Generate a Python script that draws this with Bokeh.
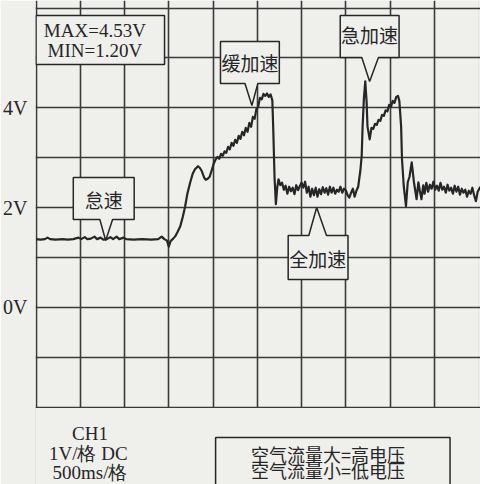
from bokeh.plotting import figure
from bokeh.models import Grid, FixedTicker, Range1d
from bokeh.core.properties import value
from bokeh.embed import file_html
from bokeh.resources import INLINE

# ---------------- data (time in s, voltage in V) ----------------
t_idle = [0.00, 0.05, 0.10, 0.13, 0.16, 0.22, 0.30, 0.36, 0.42, 0.48, 0.51, 0.55, 0.58, 0.62,
          0.66, 0.69, 0.73, 0.76, 0.80, 0.84, 0.87, 0.91, 0.94, 0.99, 1.02, 1.10, 1.20, 1.30,
          1.38, 1.42, 1.45, 1.48]
v_idle = [1.37, 1.36, 1.37, 1.40, 1.37, 1.36, 1.37, 1.36, 1.37, 1.40, 1.37, 1.41, 1.37, 1.38,
          1.42, 1.37, 1.40, 1.36, 1.37, 1.41, 1.37, 1.42, 1.37, 1.40, 1.37, 1.36, 1.37, 1.36,
          1.37, 1.42, 1.37, 1.34]

t_slow = [1.50, 1.52, 1.55, 1.574, 1.60, 1.63, 1.66, 1.685, 1.71, 1.741, 1.77, 1.796, 1.83,
          1.85, 1.874, 1.90, 1.918, 1.94, 1.962, 1.985, 2.007, 2.03, 2.05, 2.07, 2.09, 2.11,
          2.13, 2.15, 2.17, 2.19, 2.21, 2.23, 2.25, 2.27, 2.29, 2.31, 2.33, 2.35, 2.37, 2.39,
          2.41, 2.43, 2.45, 2.47, 2.49, 2.51, 2.53, 2.55, 2.57, 2.59, 2.61, 2.63, 2.65, 2.67,
          2.68, 2.695, 2.71, 2.725, 2.74, 2.76]
v_slow = [1.22, 1.33, 1.38, 1.43, 1.52, 1.63, 1.83, 2.03, 2.28, 2.50, 2.68, 2.77, 2.83,
          2.80, 2.73, 2.60, 2.56, 2.58, 2.62, 2.75, 2.88, 2.97, 3.02, 2.98, 3.08, 3.04,
          3.13, 3.10, 3.22, 3.17, 3.30, 3.24, 3.36, 3.30, 3.44, 3.38, 3.52, 3.45, 3.60, 3.52,
          3.70, 3.62, 3.82, 3.78, 3.98, 4.02, 4.20, 4.17, 4.28, 4.24, 4.29, 4.22, 4.27, 4.15,
          3.60, 2.60, 2.07, 2.40, 2.57, 2.45]

t_full = [2.78, 2.80, 2.82, 2.84, 2.86, 2.88, 2.90, 2.92, 2.94, 2.96, 2.98, 3.00, 3.02, 3.04,
          3.06, 3.08, 3.10, 3.12, 3.14, 3.16, 3.18, 3.20, 3.22, 3.24, 3.26, 3.28, 3.30, 3.32,
          3.34, 3.36, 3.38, 3.40, 3.42, 3.44, 3.46, 3.48, 3.50, 3.52, 3.54, 3.56, 3.58, 3.60,
          3.62, 3.64]
v_full = [2.50, 2.36, 2.44, 2.28, 2.42, 2.33, 2.40, 2.27, 2.45, 2.35, 2.43, 2.50, 2.40, 2.52,
          2.30, 2.42, 2.22, 2.38, 2.25, 2.40, 2.22, 2.37, 2.27, 2.41, 2.30, 2.39, 2.26, 2.42,
          2.30, 2.40, 2.28, 2.36, 2.32, 2.42, 2.30, 2.38, 2.35, 2.25, 2.20, 2.30, 2.38, 2.22,
          2.34, 2.42]

t_fast = [3.665, 3.68, 3.69, 3.705, 3.72, 3.735, 3.745, 3.77, 3.79, 3.81, 3.83, 3.85, 3.87,
          3.89, 3.91, 3.93, 3.95, 3.97, 3.99, 4.01, 4.03, 4.05, 4.07, 4.09, 4.105, 4.125,
          4.135, 4.155, 4.18, 4.20, 4.22, 4.245, 4.27, 4.30, 4.32, 4.335, 4.355, 4.375, 4.39,
          4.41, 4.43, 4.45, 4.47, 4.49, 4.51, 4.53, 4.55, 4.57, 4.59, 4.61, 4.63, 4.65, 4.67,
          4.69, 4.71, 4.73, 4.75, 4.77, 4.79, 4.81, 4.83, 4.85, 4.87, 4.89, 4.91, 4.93, 4.95,
          4.97, 4.99, 5.02]
v_fast = [2.75, 3.05, 3.63, 4.20, 4.53, 4.12, 3.63, 3.37, 3.60, 3.58, 3.68, 3.66, 3.76,
          3.74, 3.86, 3.84, 3.95, 3.93, 4.06, 4.02, 4.14, 4.10, 4.22, 4.24, 4.14, 3.63,
          2.97, 2.43, 2.03, 2.51, 2.62, 2.91, 2.51, 2.17, 2.51, 2.35, 2.17, 2.45, 2.28,
          2.50, 2.32, 2.46, 2.38, 2.52, 2.36, 2.44, 2.34, 2.50, 2.36, 2.42, 2.30, 2.46, 2.34,
          2.40, 2.28, 2.44, 2.32, 2.42, 2.26, 2.38, 2.30, 2.36, 2.22, 2.34, 2.28, 2.40, 2.25,
          2.13, 2.32, 2.42]

t = t_idle + t_slow + t_full + t_fast
v = v_idle + v_slow + v_full + v_fast

y_ticks = [0, 2, 4]
y_tick_labels = {0: "0V", 2: "2V", 4: "4V"}
v_grid = [-2, -1, 0, 1, 2, 3, 4, 5, 6]
t_grid = [0, 0.5, 1.0, 1.5, 2.0, 2.5, 3.0, 3.5, 4.0, 4.5]

stats_text = ["MAX=4.53V", "MIN=1.20V"]
scope_text = ["CH1", "1V/格 DC", "500ms/格"]
legend_text = ["空气流量大=高电压", "空气流量小=低电压"]
callout_text = ["怠速", "缓加速", "急加速", "全加速"]

# ---------------- figure ----------------
BG = "#efefec"
INK = "#262626"
GRIDC = "#3a3a3a"

p = figure(width=480, height=484, output_backend="svg", toolbar_location=None,
           x_range=Range1d(-0.006, 5.022), y_range=Range1d(-3.547, 6.152),
           x_axis_location=None, y_axis_location="left",
           min_border_left=27, min_border_right=0, min_border_top=0, min_border_bottom=0)
p.background_fill_color = BG
p.border_fill_color = BG
p.outline_line_color = None
p.ygrid.visible = False

ax = p.yaxis[0]
ax.ticker = FixedTicker(ticks=y_ticks)
ax.major_label_overrides = y_tick_labels
ax.axis_line_color = None
ax.major_tick_line_color = None
ax.minor_tick_line_color = None
ax.major_label_standoff = 2
ax.major_label_text_font = "Liberation Serif"
ax.major_label_text_font_size = "20px"
ax.major_label_text_color = INK

p.add_layout(Grid(dimension=0, ticker=FixedTicker(ticks=t_grid),
                  grid_line_color=GRIDC, grid_line_width=1.6))
p.add_layout(Grid(dimension=1, ticker=FixedTicker(ticks=v_grid),
                  grid_line_color=GRIDC, grid_line_width=1.6))

# hide the vertical grid lines below the screen's bottom edge
p.quad(left=[-0.1], right=[5.1], bottom=[-3.7], top=[-2.016], fill_color=BG, line_color=None)

# trace
p.line(t, v, line_color=INK, line_width=2.2, line_join="round")

# ---------------- callouts ----------------
def box_below(x0, x1, y0, y1, b0, b1, tx, ty):
    return ([x0, x1, x1, b1, tx, b0, x0], [y1, y1, y0, y0, ty, y0, y0])

def box_above(x0, x1, y0, y1, b0, b1, tx, ty):
    return ([x0, b0, tx, b1, x1, x1, x0], [y1, y1, ty, y1, y1, y0, y0])

shapes = [
    box_below(0.421, 1.109, 1.764, 2.605, 0.721, 0.865, 0.787, 1.343),
    box_below(2.084, 2.749, 4.489, 5.331, 2.361, 2.506, 2.439, 4.048),
    box_below(3.437, 4.102, 5.010, 5.852, 3.681, 3.869, 3.769, 4.529),
    box_above(2.849, 3.525, 0.561, 1.443, 3.082, 3.282, 3.171, 2.004),
    ([0.0, 1.452, 1.452, 0.0], [5.852, 5.852, 4.870, 4.870]),
    ([2.029, 4.678, 4.678, 2.029], [-2.605, -2.605, -3.70, -3.70]),
]
p.patches([s[0] for s in shapes], [s[1] for s in shapes], fill_color=BG,
          line_color=INK, line_width=1.5)

p.text(x=[0.765, 2.417, 3.769, 3.182], y=[2.164, 4.910, 5.471, 0.982], text=callout_text,
       text_font=value("Noto Sans CJK SC"), text_font_size="19px", text_color=INK,
       text_align="center", text_baseline="middle")

p.text(x=[0.665, 0.665], y=[5.551, 5.150], text=stats_text,
       text_font=value("Liberation Serif"), text_font_size="19px", text_color=INK,
       text_align="center", text_baseline="middle")

p.text(x=[0.61, 0.59, 0.61], y=[-2.525, -2.926, -3.307], text=scope_text,
       text_font=value("Liberation Serif"), text_font_size="19px", text_color=INK,
       text_align="center", text_baseline="middle")

p.text(x=[3.30, 3.30], y=[-2.926, -3.247], text=legend_text,
       text_font=value("Noto Sans CJK SC"), text_font_size="18px", text_color=INK,
       text_align="center", text_baseline="middle")

open("out.html", "w").write(file_html(p, INLINE))
